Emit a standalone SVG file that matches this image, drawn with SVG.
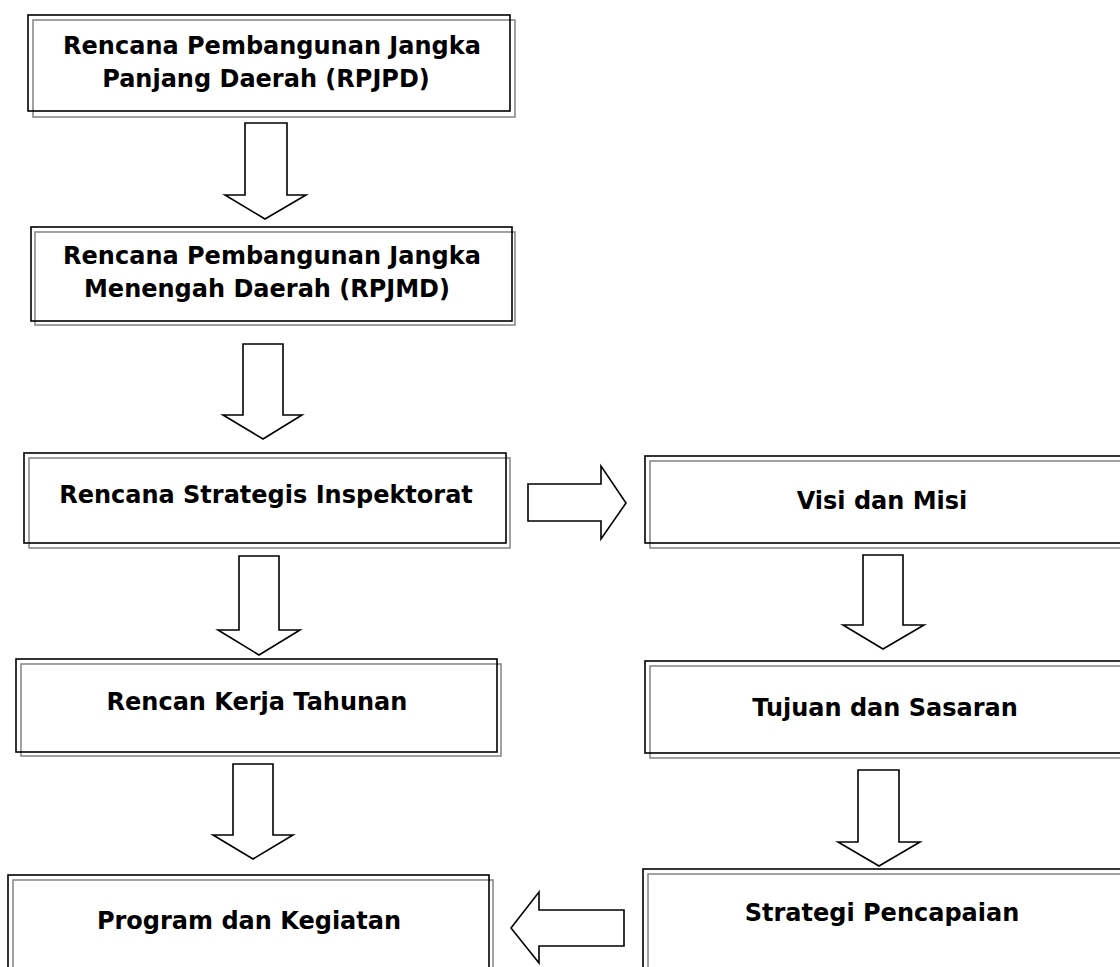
<svg xmlns="http://www.w3.org/2000/svg" width="1120" height="967" viewBox="0 0 1120 967">
<style>
.b{fill:none;stroke:#000;stroke-width:1.6}
.g{fill:none;stroke:#8a8a8a;stroke-width:1.6}
.t{font-family:"DejaVu Sans","Liberation Sans",sans-serif;font-weight:bold;font-size:24px;fill:#000;text-anchor:middle}
.a{fill:#fff;stroke:#000;stroke-width:1.6;stroke-linejoin:miter}
</style>
<rect width="1120" height="967" fill="#fff"/>
<g id="n-rpjpd">
<rect class="g" x="33" y="20" width="482" height="97"/>
<rect class="b" x="28" y="15" width="482" height="96"/>
<text class="t" x="272" y="54">Rencana Pembangunan Jangka</text>
<text class="t" x="266" y="87">Panjang Daerah (RPJPD)</text>
</g>
<g id="n-rpjmd">
<rect class="g" x="35" y="232" width="480" height="93"/>
<rect class="b" x="31" y="227" width="481" height="94"/>
<text class="t" x="272" y="264">Rencana Pembangunan Jangka</text>
<text class="t" x="267" y="297">Menengah Daerah (RPJMD)</text>
</g>
<g id="n-renstra">
<rect class="g" x="29" y="458" width="481" height="90"/>
<rect class="b" x="24" y="453" width="482" height="90"/>
<text class="t" x="266" y="503">Rencana Strategis Inspektorat</text>
</g>
<g id="n-visi">
<rect class="g" x="650" y="461" width="480" height="87"/>
<rect class="b" x="645" y="456" width="480" height="87"/>
<text class="t" x="882" y="509">Visi dan Misi</text>
</g>
<g id="n-rkt">
<rect class="g" x="21" y="664" width="480" height="92"/>
<rect class="b" x="16" y="659" width="481" height="93"/>
<text class="t" x="257" y="710">Rencan Kerja Tahunan</text>
</g>
<g id="n-tujuan">
<rect class="g" x="650" y="666" width="480" height="92"/>
<rect class="b" x="645" y="661" width="480" height="92"/>
<text class="t" x="885" y="716">Tujuan dan Sasaran</text>
</g>
<g id="n-program">
<rect class="g" x="13" y="880" width="480" height="100"/>
<rect class="b" x="8" y="875" width="481" height="100"/>
<text class="t" x="249" y="929">Program dan Kegiatan</text>
</g>
<g id="n-strategi">
<rect class="g" x="648" y="874" width="480" height="100"/>
<rect class="b" x="643" y="869" width="480" height="100"/>
<text class="t" x="882" y="921">Strategi Pencapaian</text>
</g>
<g id="connectors">
<polygon class="a" points="245,123 287,123 287,195 306,195 265,219 225,195 245,195"/>
<polygon class="a" points="243,344 283,344 283,415 302,415 263,439 223,415 243,415"/>
<polygon class="a" points="239,556 279,556 279,630 300,630 259,655 218,630 239,630"/>
<polygon class="a" points="233,764 273,764 273,835 293,835 253,859 213,835 233,835"/>
<polygon class="a" points="528,484 601,484 601,466 626,503 601,539 601,521 528,521"/>
<polygon class="a" points="863,555 903,555 903,625 924,625 883,649 843,625 863,625"/>
<polygon class="a" points="858,770 899,770 899,842 920,842 879,866 838,842 858,842"/>
<polygon class="a" points="624,910 539,910 539,892 511,928 539,963 539,946 624,946"/>
</g>
</svg>
